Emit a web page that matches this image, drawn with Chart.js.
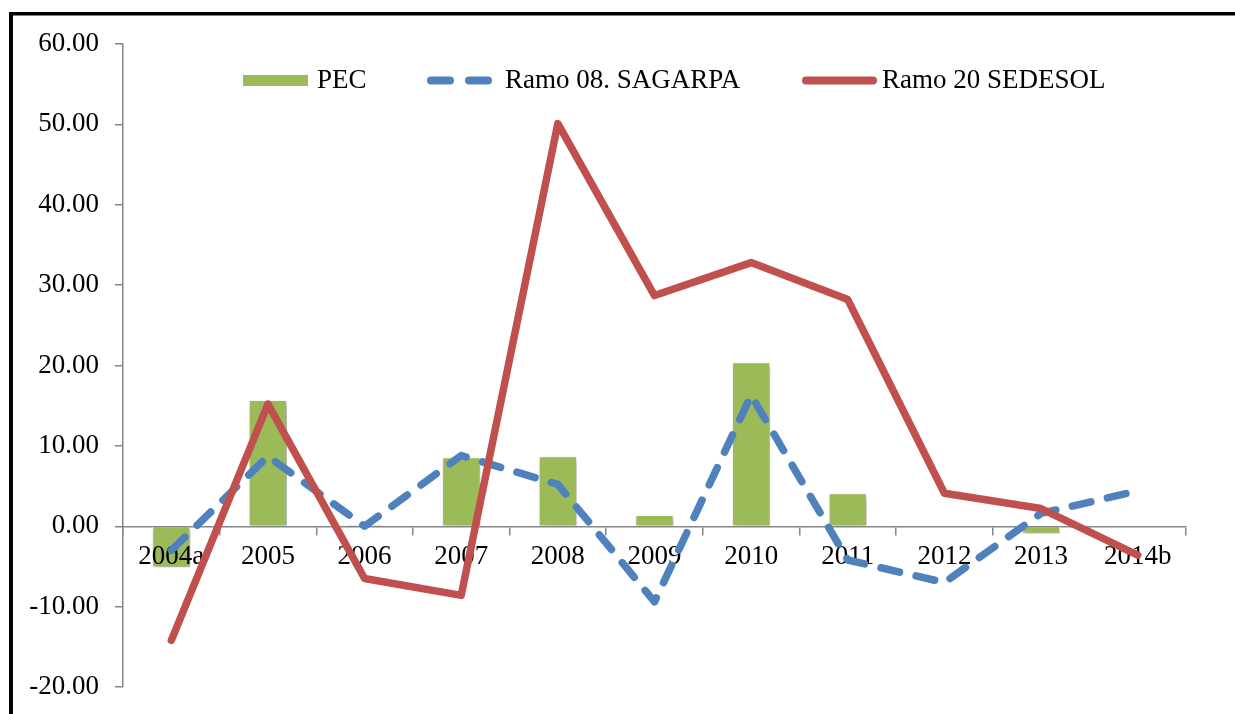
<!DOCTYPE html>
<html>
<head>
<meta charset="utf-8">
<script src="https://cdn.jsdelivr.net/npm/chart.js@4.4.1/dist/chart.umd.min.js"></script>
<style>
  html, body { margin: 0; padding: 0; background: #fff; }
  #wrap { width: 1235px; height: 714px; position: relative; }
</style>
</head>
<body>
<div id="wrap"><canvas id="c" width="1235" height="714"></canvas></div>
<script>
const categories = ['2004a', '2005', '2006', '2007', '2008', '2009', '2010', '2011', '2012', '2013', '2014b'];
const pecValues = [-5.1, 15.7, 0.2, 8.6, 8.7, 1.4, 20.4, 4.1, -0.1, -0.9, 0.1];
const sagarpaValues = [-3.0, 8.7, 0.0, 8.8, 5.2, -9.4, 16.3, -4.2, -7.0, 1.6, 4.4];
const sedesolValues = [-14.2, 15.2, -6.5, -8.6, 50.1, 28.7, 32.8, 28.2, 4.1, 2.2, -3.6];
const seriesNames = ['PEC', 'Ramo 08. SAGARPA', 'Ramo 20 SEDESOL'];
const yTicks = [-20, -10, 0, 10, 20, 30, 40, 50, 60];

const GREEN = '#9BBB59', BLUE = '#4F81BD', RED = '#C0504D', AXIS = '#868686';
const FONT = '"Liberation Serif", "Times New Roman", serif';
const FONT_SIZE = 27;

const framePlugin = {
  id: 'frame',
  beforeDraw(chart) {
    const ctx = chart.ctx;
    ctx.save();
    ctx.fillStyle = '#fff';
    ctx.fillRect(0, 0, chart.width, chart.height);
    ctx.fillStyle = '#000';
    ctx.fillRect(9, 12, chart.width - 9, 3.5);
    ctx.fillRect(9, 12, 4, chart.height - 12);
    ctx.restore();
  }
};

// bar shadow + category labels drawn between the bars and the lines
const barLayerPlugin = {
  id: 'barLayer',
  beforeDatasetDraw(chart, args) {
    if (args.index !== 0) return;
    const ctx = chart.ctx;
    ctx.save();
    ctx.shadowColor = 'rgba(0,0,0,0.4)';
    ctx.shadowBlur = 5;
    ctx.shadowOffsetX = 1.5;
    ctx.shadowOffsetY = 3;
  },
  afterDatasetDraw(chart, args) {
    if (args.index !== 0) return;
    const ctx = chart.ctx;
    ctx.restore();
    const xs = chart.scales.x, ys = chart.scales.y;
    const y = ys.getPixelForValue(0) + 31;
    ctx.save();
    ctx.font = FONT_SIZE + 'px ' + FONT;
    ctx.fillStyle = '#000';
    ctx.textAlign = 'center';
    ctx.textBaseline = 'middle';
    categories.forEach((c, i) => ctx.fillText(c, xs.getPixelForValue(i), y));
    ctx.restore();
  }
};

const legendPlugin = {
  id: 'customLegend',
  afterDraw(chart) {
    const ctx = chart.ctx;
    const y = 80.5;
    ctx.save();
    ctx.font = FONT_SIZE + 'px ' + FONT;
    ctx.textBaseline = 'middle';
    ctx.textAlign = 'left';
    ctx.fillStyle = GREEN;
    ctx.fillRect(243, 75, 65, 11);
    ctx.fillStyle = '#000';
    ctx.fillText(seriesNames[0], 317, y);
    ctx.strokeStyle = BLUE;
    ctx.lineWidth = 8;
    ctx.lineCap = 'round';
    ctx.setLineDash([19, 19]);
    ctx.beginPath();
    ctx.moveTo(431, y);
    ctx.lineTo(488, y);
    ctx.stroke();
    ctx.setLineDash([]);
    ctx.fillText(seriesNames[1], 505, y);
    ctx.strokeStyle = RED;
    ctx.beginPath();
    ctx.moveTo(806, y);
    ctx.lineTo(873, y);
    ctx.stroke();
    ctx.fillText(seriesNames[2], 882, y);
    ctx.restore();
  }
};

new Chart(document.getElementById('c'), {
  data: {
    labels: categories,
    datasets: [
      {
        type: 'bar',
        label: seriesNames[0],
        data: pecValues,
        backgroundColor: GREEN,
        borderColor: '#ffffff',
        borderWidth: 1,
        barPercentage: 0.395,
        categoryPercentage: 1.0,
        order: 3
      },
      {
        type: 'line',
        label: seriesNames[1],
        data: sagarpaValues,
        borderColor: BLUE,
        borderWidth: 7.5,
        borderDash: [19, 17],
        borderCapStyle: 'round',
        borderJoinStyle: 'round',
        pointRadius: 0,
        tension: 0,
        fill: false,
        order: 2
      },
      {
        type: 'line',
        label: seriesNames[2],
        data: sedesolValues,
        borderColor: RED,
        borderWidth: 7.5,
        borderCapStyle: 'round',
        borderJoinStyle: 'round',
        pointRadius: 0,
        tension: 0,
        fill: false,
        order: 1
      }
    ]
  },
  options: {
    responsive: false,
    animation: false,
    devicePixelRatio: 1,
    layout: { padding: { left: 0, top: 44, right: 49, bottom: 27 } },
    plugins: { legend: { display: false }, tooltip: { enabled: false } },
    scales: {
      x: {
        type: 'category',
        position: { y: 0 },
        offset: true,
        afterFit(scale) { scale.height = 0; scale.paddingLeft = 0; scale.paddingRight = 0; scale.paddingTop = 0; scale.paddingBottom = 0; },
        grid: { display: true, drawOnChartArea: false, drawTicks: true, tickLength: 8, color: AXIS, lineWidth: 1.5, offset: true },
        border: { display: true, color: AXIS, width: 1.5 },
        ticks: { display: false, autoSkip: false }
      },
      y: {
        type: 'linear',
        position: 'left',
        min: -20,
        max: 60,
        afterFit(scale) { scale.width = 123; scale.paddingTop = 0; scale.paddingBottom = 0; },
        afterBuildTicks(scale) { scale.ticks = yTicks.map(v => ({ value: v })); },
        grid: { display: true, drawOnChartArea: false, drawTicks: true, tickLength: 8, color: AXIS, lineWidth: 1.5 },
        border: { display: true, color: AXIS, width: 1.5 },
        ticks: { color: '#000', font: { family: FONT, size: FONT_SIZE }, padding: 16, callback: v => Number(v).toFixed(2) }
      }
    }
  },
  plugins: [framePlugin, barLayerPlugin, legendPlugin]
});
</script>
</body>
</html>
